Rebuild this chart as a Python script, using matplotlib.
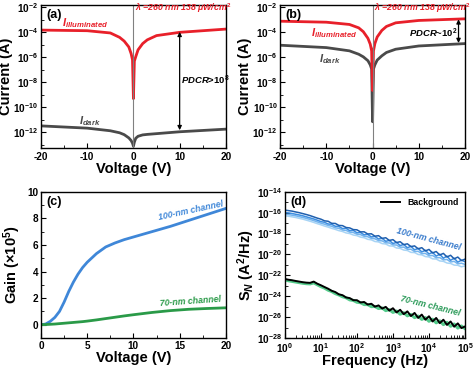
import numpy as np
import matplotlib
matplotlib.use('Agg')
import matplotlib.pyplot as plt
from matplotlib.ticker import LogLocator, NullFormatter, MultipleLocator

plt.rcParams['font.family'] = ['Liberation Sans', 'DejaVu Sans']
plt.rcParams['font.weight'] = 'bold'
plt.rcParams['axes.labelweight'] = 'bold'
plt.rcParams['axes.unicode_minus'] = False
plt.rcParams['mathtext.fontset'] = 'custom'
plt.rcParams['mathtext.rm'] = 'Liberation Sans:bold'
plt.rcParams['mathtext.it'] = 'Liberation Sans:bold:italic'
plt.rcParams['mathtext.bf'] = 'Liberation Sans:bold'
plt.rcParams['xtick.direction'] = 'in'
plt.rcParams['ytick.direction'] = 'in'
plt.rcParams['xtick.labelsize'] = 7.2
plt.rcParams['ytick.labelsize'] = 7.2
plt.rcParams['xtick.major.pad'] = 2.5
plt.rcParams['ytick.major.pad'] = 2
plt.rcParams['axes.linewidth'] = 1.0

# (a) 和 (b) 的 I-V 数据，电流为 log10 值
volt_iv = [-20, -10, -5, -3, -2, -1, -0.5, -0.2, 0, 0.2, 0.5, 1, 2, 3, 5, 10, 20]
a_illum = [-3.82, -3.87, -4.05, -4.40, -4.70, -5.17, -5.70, -6.20, -9.30,
           -6.30, -5.95, -5.40, -4.90, -4.60, -4.26, -4.00, -3.74]
a_dark = [-11.48, -11.66, -11.87, -12.03, -12.18, -12.44, -12.65, -12.86, -13.10,
          -12.78, -12.47, -12.31, -12.20, -12.16, -12.10, -11.95, -11.74]
b_illum = [-3.11, -3.19, -3.37, -3.64, -3.95, -4.48, -4.95, -5.48, -8.65,
           -5.48, -4.90, -4.37, -3.85, -3.53, -3.24, -3.05, -2.92]
b_dark = [-5.03, -5.22, -5.48, -5.75, -5.96, -6.27, -6.60, -6.93, -11.15,
          -6.93, -6.60, -6.22, -5.88, -5.61, -5.35, -5.09, -4.90]

# (c) 增益
volt_gain = [0, 0.5, 1, 1.5, 2, 2.5, 3, 3.5, 4, 4.5, 5, 6, 7, 8, 9, 10, 12, 14, 16, 18, 20]
gain_100 = [0, 0.05, 0.25, 0.55, 1.0, 1.7, 2.5, 3.2, 3.8, 4.3, 4.7, 5.35, 5.85, 6.15,
            6.4, 6.6, 7.0, 7.4, 7.85, 8.3, 8.75]
gain_70 = [0, 0.01, 0.03, 0.05, 0.08, 0.11, 0.14, 0.17, 0.2, 0.23, 0.27, 0.36, 0.46,
           0.56, 0.66, 0.75, 0.92, 1.06, 1.16, 1.22, 1.27]

# (d) 噪声谱，频率和 S_N 均为 log10 值
f_exp = [0.0, 0.1, 0.2, 0.3, 0.4, 0.5, 0.6, 0.7, 0.8, 0.9,
         1.0, 1.1, 1.2, 1.3, 1.4, 1.5, 1.6, 1.7, 1.8, 1.9,
         2.0, 2.1, 2.2, 2.3, 2.4, 2.5, 2.6, 2.7, 2.8, 2.9,
         3.0, 3.1, 3.2, 3.3, 3.4, 3.5, 3.6, 3.7, 3.8, 3.9,
         4.0, 4.1, 4.2, 4.3, 4.4, 4.5, 4.6, 4.7, 4.8, 4.9, 5.0]
sn_blue1 = [-15.75, -15.80, -15.85, -15.93, -16.00, -16.09, -16.18, -16.28, -16.40, -16.52,
            -16.62, -16.78, -16.82, -17.02, -17.03, -17.22, -17.24, -17.42, -17.46, -17.62,
            -17.64, -17.84, -17.83, -18.04, -18.02, -18.25, -18.20, -18.46, -18.40, -18.66,
            -18.58, -18.86, -18.78, -19.06, -18.98, -19.25, -19.18, -19.46, -19.35, -19.66,
            -19.52, -19.85, -19.72, -20.05, -19.90, -20.24, -20.08, -20.42, -20.25, -20.58, -20.45]
sn_blue2 = [-15.98, -16.02, -16.08, -16.15, -16.22, -16.30, -16.40, -16.50, -16.60, -16.72,
            -16.85, -16.92, -17.08, -17.12, -17.30, -17.32, -17.52, -17.50, -17.72, -17.70,
            -17.92, -17.90, -18.12, -18.08, -18.32, -18.28, -18.52, -18.46, -18.74, -18.66,
            -18.95, -18.85, -19.15, -19.04, -19.36, -19.22, -19.56, -19.42, -19.76, -19.60,
            -19.96, -19.80, -20.16, -19.98, -20.36, -20.16, -20.56, -20.36, -20.74, -20.55, -20.70]
sn_blue3 = [-16.15, -16.18, -16.24, -16.30, -16.38, -16.46, -16.55, -16.65, -16.76, -16.88,
            -17.00, -17.10, -17.22, -17.30, -17.45, -17.50, -17.66, -17.70, -17.86, -17.90,
            -18.06, -18.10, -18.26, -18.30, -18.46, -18.50, -18.67, -18.70, -18.88, -18.90,
            -19.08, -19.10, -19.30, -19.30, -19.50, -19.50, -19.72, -19.70, -19.92, -19.90,
            -20.12, -20.10, -20.32, -20.30, -20.52, -20.48, -20.72, -20.66, -20.90, -20.84, -20.95]
sn_blue4 = [-16.30, -16.34, -16.40, -16.46, -16.54, -16.62, -16.72, -16.82, -16.93, -17.05,
            -17.16, -17.28, -17.38, -17.50, -17.60, -17.72, -17.80, -17.94, -18.00, -18.14,
            -18.20, -18.34, -18.40, -18.55, -18.60, -18.76, -18.80, -18.96, -19.00, -19.18,
            -19.20, -19.38, -19.42, -19.58, -19.62, -19.80, -19.82, -20.00, -20.04, -20.20,
            -20.24, -20.42, -20.44, -20.62, -20.66, -20.82, -20.86, -21.02, -21.04, -21.18, -21.10]
sn_70 = [-22.45, -22.52, -22.58, -22.64, -22.70, -22.76, -22.80, -22.82, -22.72, -22.90,
         -23.08, -23.22, -23.42, -23.55, -23.75, -23.88, -24.05, -24.15, -24.35, -24.40,
         -24.58, -24.62, -24.80, -24.80, -25.00, -24.98, -25.18, -25.12, -25.38, -25.28,
         -25.55, -25.42, -25.72, -25.58, -25.88, -25.75, -26.05, -25.90, -26.22, -26.05,
         -26.40, -26.20, -26.55, -26.36, -26.72, -26.50, -26.88, -26.66, -27.05, -26.85, -27.10]
sn_bg = [-22.35, -22.42, -22.47, -22.54, -22.60, -22.66, -22.70, -22.72, -22.60, -22.80,
         -22.95, -23.12, -23.28, -23.48, -23.60, -23.82, -23.90, -24.12, -24.18, -24.38,
         -24.38, -24.60, -24.55, -24.80, -24.72, -25.00, -24.88, -25.18, -25.02, -25.38,
         -25.15, -25.55, -25.30, -25.72, -25.45, -25.90, -25.60, -26.08, -25.76, -26.25,
         -25.92, -26.42, -26.08, -26.58, -26.25, -26.75, -26.42, -26.92, -26.60, -27.05, -26.90]

RED = '#e8202a'
GRAY = '#4a4a4a'
LABEL_FS = 10.5


def iv_panel(ax, illum, dark, tag):
    v = np.array(volt_iv)
    ax.semilogy(v, 10.0 ** np.array(dark), color=GRAY, lw=2)
    ax.semilogy(v, 10.0 ** np.array(illum), color=RED, lw=2)
    ax.axvline(0, color='gray', lw=0.8)
    ax.set_xlim(-20, 20)
    ax.set_ylim(10 ** -13.25, 10 ** -1.8)
    ax.set_xticks([-20, -10, 0, 10, 20])
    ax.xaxis.set_minor_locator(MultipleLocator(5))
    ax.set_yticks([1e-12, 1e-10, 1e-8, 1e-6, 1e-4, 1e-2])
    ax.yaxis.set_minor_locator(LogLocator(base=10, subs=[1.0], numticks=20))
    ax.yaxis.set_minor_formatter(NullFormatter())
    ax.set_xlabel('Voltage (V)', fontsize=LABEL_FS, labelpad=0)
    ax.set_ylabel('Current (A)', fontsize=LABEL_FS, labelpad=0)
    ax.text(0.03, 0.97, tag, transform=ax.transAxes, va='top', fontsize=9)
    ax.text(0.4, 10 ** -2.1, r'$\lambda$ =260 nm 138 $\mu$W/cm$^2$', color=RED,
            style='italic', fontsize=6.3, va='center')


fig = plt.figure(figsize=(4.74, 3.71), dpi=100)
ax_a = fig.add_axes([0.0865, 0.601, 0.390, 0.386])
ax_b = fig.add_axes([0.591, 0.601, 0.390, 0.386])
ax_c = fig.add_axes([0.0865, 0.089, 0.390, 0.394])
ax_d = fig.add_axes([0.601, 0.089, 0.380, 0.394])

# (a)
iv_panel(ax_a, a_illum, a_dark, '(a)')
ax_a.text(-10.5, 10 ** -3.3, r'$I_{illuminated}$', color=RED, fontsize=8, ha='center', va='center')
ax_a.text(-9.4, 10 ** -11.1, r'$I_{dark}$', color=GRAY, fontsize=8, ha='center', va='center')
ax_a.annotate('', xy=(10, 1.1e-4), xytext=(10, 1.5e-12),
              arrowprops=dict(arrowstyle='<|-|>', color='black', lw=0.9,
                              mutation_scale=6, shrinkA=0, shrinkB=0))
ax_a.text(10.2, 10 ** -7.8, r'$PDCR$>10$^8$', fontsize=6.8, va='center')

# (b)
iv_panel(ax_b, b_illum, b_dark, '(b)')
ax_b.text(-8.4, 10 ** -4.07, r'$I_{illuminated}$', color=RED, fontsize=8, ha='center', va='center')
ax_b.text(-9.2, 10 ** -6.1, r'$I_{dark}$', color=GRAY, fontsize=8, ha='center', va='center')
ax_b.annotate('', xy=(18.6, 1.1e-3), xytext=(18.6, 1.4e-5),
              arrowprops=dict(arrowstyle='<|-|>', color='black', lw=0.9,
                              mutation_scale=6, shrinkA=0, shrinkB=0))
ax_b.text(7.8, 10 ** -4.08, r'$PDCR$~10$^2$', fontsize=6.8, va='center')

# (c)
ax_c.plot(volt_gain, gain_100, color='#3f87d8', lw=2)
ax_c.plot(volt_gain, gain_70, color='#2a9a48', lw=2)
ax_c.set_xlim(0, 20)
ax_c.set_ylim(-1, 10)
ax_c.set_xticks([0, 5, 10, 15, 20])
ax_c.set_yticks([0, 2, 4, 6, 8, 10])
ax_c.xaxis.set_minor_locator(MultipleLocator(2.5))
ax_c.yaxis.set_minor_locator(MultipleLocator(1))
ax_c.set_xlabel('Voltage (V)', fontsize=LABEL_FS, labelpad=0)
ax_c.set_ylabel('Gain (×10$^5$)', fontsize=LABEL_FS, labelpad=3)
ax_c.text(0.03, 0.97, '(c)', transform=ax_c.transAxes, va='top', fontsize=9)
ax_c.text(16.2, 8.6, '100-nm channel', color='#3f87d8', style='italic', fontsize=6.3,
          rotation=12, ha='center', va='center')
ax_c.text(16.2, 1.78, '70-nm channel', color='#2a9a48', style='italic', fontsize=6.3,
          rotation=4, ha='center', va='center')

# (d)
freq = 10.0 ** np.array(f_exp)
for vals, col in [(sn_blue4, '#a8d4f5'), (sn_blue3, '#74b4ee'),
                  (sn_blue2, '#3d8ee0'), (sn_blue1, '#1f5fae')]:
    ax_d.loglog(freq, 10.0 ** np.array(vals), color=col, lw=1.1)
ax_d.loglog(freq, 10.0 ** np.array(sn_70), color='#55cc8c', lw=2.2)
ax_d.loglog(freq, 10.0 ** np.array(sn_bg), color='black', lw=1.4, label='Background')
ax_d.set_xlim(1, 1e5)
ax_d.set_ylim(1e-28, 1e-14)
ax_d.xaxis.set_major_locator(LogLocator(base=10, numticks=10))
ax_d.xaxis.set_minor_formatter(NullFormatter())
ax_d.set_yticks([1e-28, 1e-26, 1e-24, 1e-22, 1e-20, 1e-18, 1e-16, 1e-14])
ax_d.yaxis.set_minor_locator(LogLocator(base=10, subs=[1.0], numticks=20))
ax_d.yaxis.set_minor_formatter(NullFormatter())
ax_d.set_xlabel('Frequency (Hz)', fontsize=LABEL_FS, labelpad=-1.2)
ax_d.set_ylabel('S$_N$ (A$^2$/Hz)', fontsize=LABEL_FS, labelpad=0)
ax_d.text(0.03, 0.97, '(d)', transform=ax_d.transAxes, va='top', fontsize=9)
ax_d.legend(loc='upper right', frameon=False, fontsize=6.3, handlelength=2.2,
            borderaxespad=0.3)
ax_d.text(10 ** 3.98, 10 ** -18.57, '100-nm channel', color='#3a7ccc', style='italic',
          fontsize=6.3, rotation=-15, ha='center', va='center')
ax_d.text(10 ** 4.03, 10 ** -24.96, '70-nm channel', color='#2a9a58', style='italic',
          fontsize=6.3, rotation=-14, ha='center', va='center')

fig.savefig('out.png', dpi=100)
